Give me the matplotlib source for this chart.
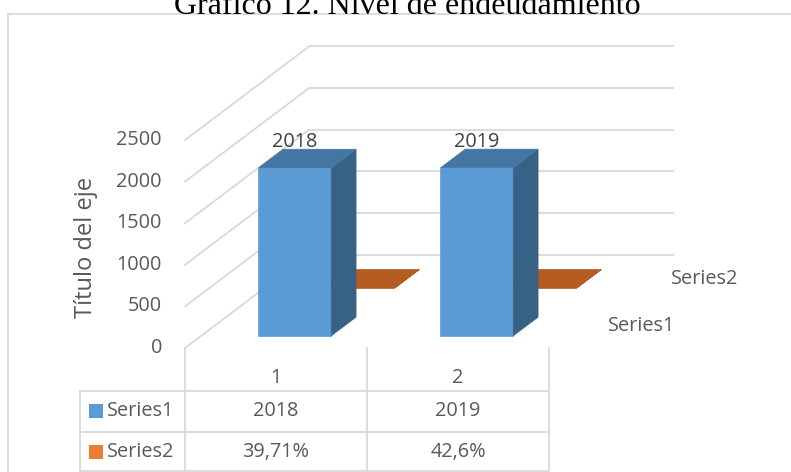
import matplotlib
matplotlib.use("Agg")
import matplotlib.pyplot as plt
from matplotlib.patches import Polygon, Rectangle

# datos del gráfico
categories = ['1', '2']
series_names = ['Series1', 'Series2']
series1 = [2018, 2019]
series2 = [0.3971, 0.426]
series1_labels = ['2018', '2019']
series2_labels = ['39,71%', '42,6%']
y_ticks = [0, 500, 1000, 1500, 2000, 2500]

W, H = 791, 472
GRID = '#D9D9D9'
TXT = '#595959'
FONT = 'Open Sans'
FS = 14.3

# geometría de la proyección oblicua (px)
X0, Y0 = 185, 348          # esquina frontal izquierda del suelo
PX_CAT = 182               # px por categoría
PX_VAL = 41.6 / 500        # px por unidad
DEPTH_X, DEPTH_Y = 124, 93.5
DX = DEPTH_X / PX_CAT
DY = DEPTH_Y / PX_VAL

# posición de cada serie en profundidad y ancho de barra
series_depth = [(0.13, 0.33), (0.64, 0.84)]
bar_c0, bar_c1 = 0.315, 0.715

faces = {
    0: ('#5B9BD5', '#386186', '#4575A3'),
    1: ('#C0622A', '#9C4C1A', '#B55D21'),
}


def P(c, d, v):
    return (c + DX * d, v + DY * d)


fig = plt.figure(figsize=(W / 100, H / 100), dpi=100)

# capa de maquetación en px
lay = fig.add_axes([0, 0, 1, 1])
lay.set_xlim(0, W)
lay.set_ylim(H, 0)
lay.axis('off')

ax = fig.add_axes([0, 0, 1, 1])
ax.set_xlim(-X0 / PX_CAT, (W - X0) / PX_CAT)
ax.set_ylim(-(H - Y0) / PX_VAL, Y0 / PX_VAL)
ax.axis('off')
ax.patch.set_alpha(0)

# marco y título
lay.plot([8, W], [13.5, 13.5], color=GRID, lw=1.3)
lay.plot([8, 8], [13.5, H], color=GRID, lw=1.3)
fig.text(407 / W, 1 - 14 / H, 'Gráfico 12. Nivel de endeudamiento',
         family='Liberation Serif', fontsize=23, ha='center', va='baseline',
         color='black')

# rejilla: pared trasera y pared izquierda
n_cat = len(categories)
for v in y_ticks:
    a, b = P(0, 1, v), P(n_cat, 1, v)
    ax.plot([a[0], b[0]], [a[1], b[1]], color=GRID, lw=1.3, zorder=0)
    a, b = P(0, 0, v), P(0, 1, v)
    ax.plot([a[0], b[0]], [a[1], b[1]], color=GRID, lw=1.3, zorder=0)
    ax.annotate(str(v), P(0, 0, v), xytext=(-16.6, 0), textcoords='offset points',
                ha='right', va='center', fontsize=FS, color=TXT, family=FONT)

ax.text(86 / W, 1 - 247 / H, 'Título del eje', transform=fig.transFigure,
        rotation=90, ha='center', va='center', fontsize=17, color=TXT, family=FONT)

# barras (de atrás hacia delante)
values = [series1, series2]
for s in [1, 0]:
    d0, d1 = series_depth[s]
    front_c, side_c, top_c = faces[s]
    for i, v in enumerate(values[s]):
        c0, c1 = i + bar_c0, i + bar_c1
        front = [P(c0, d0, 0), P(c1, d0, 0), P(c1, d0, v), P(c0, d0, v)]
        side = [P(c1, d0, 0), P(c1, d1, 0), P(c1, d1, v), P(c1, d0, v)]
        top = [P(c0, d0, v), P(c1, d0, v), P(c1, d1, v), P(c0, d1, v)]
        for pts, col in [(front, front_c), (side, side_c), (top, top_c)]:
            ax.add_patch(Polygon(pts, closed=True, fc=col, ec=col, lw=0.5, zorder=2))

# etiquetas de datos de Series1
d0 = series_depth[0][0]
for i, v in enumerate(series1):
    ax.annotate(series1_labels[i], P(i + (bar_c0 + bar_c1) / 2, d0, v), xytext=(0, 18.5),
                textcoords='offset points', ha='center', va='center',
                fontsize=FS, color='#404040', family=FONT, zorder=3)

# etiquetas del eje de profundidad
for s, name in enumerate(series_names):
    dc = sum(series_depth[s]) / 2
    ax.annotate(name, P(n_cat, dc, 0), xytext=(21.6, 0), textcoords='offset points',
                ha='left', va='center', fontsize=FS, color=TXT, family=FONT)

# tabla de datos
col_x = [185, 367, 549]
for x in col_x:
    lay.plot([x, x], [348, 471], color=GRID, lw=1.3)
lay.plot([80, 80], [391, 471], color=GRID, lw=1.3)
for y in [391, 432, 470.5]:
    lay.plot([80, 549], [y, y], color=GRID, lw=1.3)

for i, cat in enumerate(categories):
    xc = (col_x[i] + col_x[i + 1]) / 2
    lay.text(xc, 378, cat, ha='center', va='center', fontsize=FS, color=TXT, family=FONT)
    lay.text(xc, 411, series1_labels[i], ha='center', va='center', fontsize=FS,
             color=TXT, family=FONT)
    lay.text(xc, 452, series2_labels[i], ha='center', va='center', fontsize=FS,
             color=TXT, family=FONT)

key_colors = ['#5B9BD5', '#ED7D31']
for r, (name, yc) in enumerate(zip(series_names, [411, 452])):
    lay.add_patch(Rectangle((89, yc - 7), 14, 14, fc=key_colors[r], ec='none'))
    lay.text(107, yc, name, ha='left', va='center', fontsize=FS, color=TXT, family=FONT)

fig.savefig('out.png', dpi=100, facecolor='white')
